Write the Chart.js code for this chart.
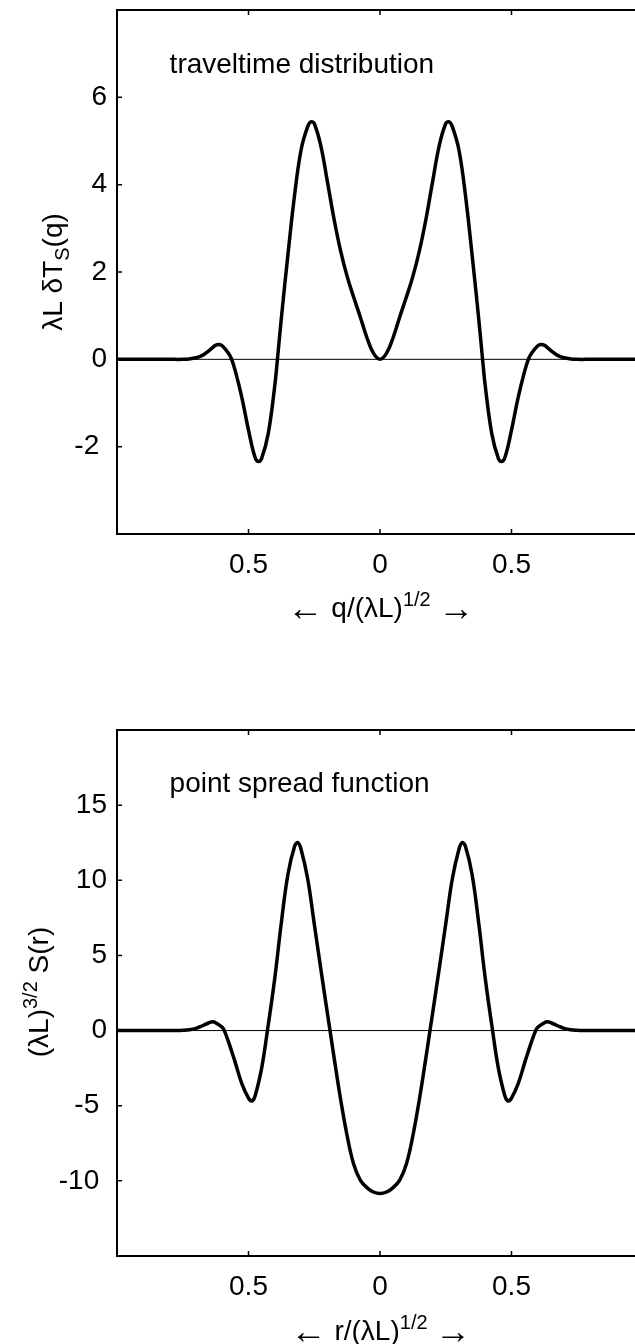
<!DOCTYPE html>
<html><head><meta charset="utf-8">
<script src="https://cdn.jsdelivr.net/npm/chart.js@4.4.1/dist/chart.umd.min.js"></script>
<style>
html,body{margin:0;padding:0;background:#fff;overflow:hidden;width:635px;height:1344px;}
.panel{position:absolute;left:0;width:660px;height:672px;}
#p1{top:0}
#p2{top:672px}
</style></head><body>
<div class="panel" id="p1"><canvas id="c1" width="660" height="672"></canvas></div>
<div class="panel" id="p2"><canvas id="c2" width="660" height="672"></canvas></div>
<script>
// ---------- data ----------
const qValues = [-1.0, -0.9, -0.8, -0.75, -0.725, -0.7, -0.675, -0.65, -0.625, -0.6125, -0.6, -0.575, -0.564, -0.55, -0.525, -0.5, -0.475, -0.4625, -0.45, -0.425, -0.4, -0.39, -0.375, -0.35, -0.325, -0.3, -0.275, -0.2625, -0.25, -0.225, -0.2, -0.175, -0.15, -0.125, -0.1, -0.075, -0.05, -0.025,
  0,
  0.025, 0.05, 0.075, 0.1, 0.125, 0.15, 0.175, 0.2, 0.225, 0.25, 0.2625, 0.275, 0.3, 0.325, 0.35, 0.375, 0.39, 0.4, 0.425, 0.45, 0.4625, 0.475, 0.5, 0.525, 0.55, 0.564, 0.575, 0.6, 0.6125, 0.625, 0.65, 0.675, 0.7, 0.725, 0.75, 0.8, 0.9, 1.0];
const travelTime = [0, 0, 0, 0, 0.01, 0.035, 0.09, 0.2, 0.32, 0.34, 0.31, 0.13, 0, -0.27, -0.88, -1.62, -2.25, -2.34, -2.27, -1.7, -0.6, 0, 0.95, 2.4, 3.75, 4.8, 5.33, 5.44, 5.4, 4.89, 4.07, 3.22, 2.49, 1.9, 1.42, 0.97, 0.5, 0.14,
  0,
  0.14, 0.5, 0.97, 1.42, 1.9, 2.49, 3.22, 4.07, 4.89, 5.4, 5.44, 5.33, 4.8, 3.75, 2.4, 0.95, 0, -0.6, -1.7, -2.27, -2.34, -2.25, -1.62, -0.88, -0.27, 0, 0.13, 0.31, 0.34, 0.32, 0.2, 0.09, 0.035, 0.01, 0, 0, 0, 0];

const rValues = [-1.0, -0.9, -0.8, -0.775, -0.75, -0.725, -0.7, -0.675, -0.65, -0.635, -0.625, -0.6, -0.592, -0.575, -0.55, -0.525, -0.5, -0.4875, -0.475, -0.45, -0.428, -0.4, -0.375, -0.35, -0.325, -0.3125, -0.3, -0.275, -0.25, -0.225, -0.2, -0.19, -0.175, -0.15, -0.125, -0.1, -0.075, -0.05, -0.025,
  0,
  0.025, 0.05, 0.075, 0.1, 0.125, 0.15, 0.175, 0.19, 0.2, 0.225, 0.25, 0.275, 0.3, 0.3125, 0.325, 0.35, 0.375, 0.4, 0.428, 0.45, 0.475, 0.4875, 0.5, 0.525, 0.55, 0.575, 0.592, 0.6, 0.625, 0.635, 0.65, 0.675, 0.7, 0.725, 0.75, 0.775, 0.8, 0.9, 1.0];
const pointSpread = [0, 0, 0, 0, 0.02, 0.06, 0.15, 0.32, 0.52, 0.58, 0.52, 0.22, 0, -0.8, -2.15, -3.55, -4.5, -4.69, -4.35, -2.5, 0, 3.5, 7.2, 10.4, 12.25, 12.5, 12.05, 10.1, 7.1, 4.1, 1.15, 0, -1.75, -4.55, -7.0, -8.9, -9.95, -10.45, -10.74,
  -10.84,
  -10.74, -10.45, -9.95, -8.9, -7.0, -4.55, -1.75, 0, 1.15, 4.1, 7.1, 10.1, 12.05, 12.5, 12.25, 10.4, 7.2, 3.5, 0, -2.5, -4.35, -4.69, -4.5, -3.55, -2.15, -0.8, 0, 0.22, 0.52, 0.58, 0.52, 0.32, 0.15, 0.06, 0.02, 0, 0, 0, 0];

const xRange = [-1, 1];
const xTickValues = [-0.5, 0, 0.5];
const travelRange = [-4, 8];
const travelTicks = [-2, 0, 2, 4, 6];
const psfRange = [-15, 20];
const psfTicks = [-10, -5, 0, 5, 10, 15];
const zeroLineX = [-1, 1];
const zeroLineY = [0, 0];

// ---------- drawing helpers ----------
const FONT = '"Liberation Sans", Arial, Helvetica, sans-serif';
const BIG = 28, SMALL = 20, ARROW = 36;

function drawRich(ctx, parts, x, y, align) {
  let total = 0;
  parts.forEach(p => { ctx.font = p.size + 'px ' + (p.font || FONT); p.w = ctx.measureText(p.text).width; total += p.w; });
  let cx = align === 'center' ? x - total / 2 : x;
  parts.forEach(p => {
    ctx.font = p.size + 'px ' + (p.font || FONT);
    ctx.fillText(p.text, cx, y + (p.dy || 0));
    cx += p.w;
  });
}

const framePlugin = {
  id: 'frame',
  afterDraw(chart, args, o) {
    const { ctx, chartArea: a, scales: { x, y } } = chart;
    ctx.save();
    ctx.strokeStyle = '#000';
    ctx.fillStyle = '#000';
    ctx.lineWidth = 2;
    ctx.strokeRect(a.left, a.top, a.right - a.left, a.bottom - a.top);
    ctx.lineWidth = 1.5;
    ctx.beginPath();
    x.ticks.forEach(t => {
      const px = x.getPixelForValue(t.value);
      ctx.moveTo(px, a.top); ctx.lineTo(px, a.top + 5);
      ctx.moveTo(px, a.bottom); ctx.lineTo(px, a.bottom - 5);
    });
    y.ticks.forEach(t => {
      const py = y.getPixelForValue(t.value);
      ctx.moveTo(a.left, py); ctx.lineTo(a.left + 5, py);
      ctx.moveTo(a.right, py); ctx.lineTo(a.right - 5, py);
    });
    ctx.stroke();

    ctx.textBaseline = 'alphabetic';
    ctx.textAlign = 'left';
    ctx.font = BIG + 'px ' + FONT;
    ctx.fillText(o.note, x.getPixelForValue(o.noteAt[0]), y.getPixelForValue(o.noteAt[1]));
    drawRich(ctx, o.xTitle, o.xTitlePos[0], o.xTitlePos[1], 'center');
    ctx.translate(o.yTitlePos[0], o.yTitlePos[1]);
    ctx.rotate(-Math.PI / 2);
    drawRich(ctx, o.yTitle, 0, 0, 'center');
    ctx.restore();
  }
};

function toPoints(xs, ys) { return xs.map((v, i) => ({ x: v, y: ys[i] })); }

function makeChart(id, xs, ys, yRange, yTicks, padding, opts) {
  return new Chart(document.getElementById(id), {
    type: 'line',
    data: {
      datasets: [
        { data: toPoints(xs, ys), borderColor: '#000', borderWidth: 3.5, pointRadius: 0, tension: 0.4, fill: false },
        { data: toPoints(zeroLineX, zeroLineY), borderColor: '#000', borderWidth: 1, pointRadius: 0, tension: 0, fill: false }
      ]
    },
    options: {
      responsive: false,
      animation: false,
      devicePixelRatio: 1,
      layout: { padding: padding },
      plugins: { legend: { display: false }, tooltip: { enabled: false }, frame: opts },
      scales: {
        x: {
          type: 'linear', min: xRange[0], max: xRange[1],
          grid: { display: false, drawTicks: false }, border: { display: false },
          afterBuildTicks: s => { s.ticks = xTickValues.map(v => ({ value: v })); },
          afterFit: s => { s.height = 60; s.paddingLeft = 0; s.paddingRight = 0; s.paddingTop = 0; s.paddingBottom = 0; },
          ticks: { color: '#000', padding: 14, font: { family: FONT, size: BIG }, maxRotation: 0,
            callback: v => String(Math.abs(v)) }
        },
        y: {
          type: 'linear', min: yRange[0], max: yRange[1],
          grid: { display: false, drawTicks: false }, border: { display: false },
          afterBuildTicks: s => { s.ticks = yTicks.map(v => ({ value: v })); },
          afterFit: s => { s.width = 117; s.paddingTop = 0; s.paddingBottom = 0; s.paddingLeft = 0; s.paddingRight = 0; },
          ticks: { color: '#000', padding: 10, font: { family: FONT, size: BIG },
            callback: v => v < 0 ? String(v) + ' ' : String(v) }
        }
      }
    },
    plugins: [framePlugin]
  });
}

makeChart('c1', qValues, travelTime, travelRange, travelTicks,
  { left: 0, top: 10, right: 17, bottom: 78 },
  {
    note: 'traveltime distribution', noteAt: [-0.8, 6.55],
    xTitle: [{ text: '\u2190', size: ARROW, dy: 3 }, { text: ' q/(\u03bbL)', size: BIG }, { text: '1/2', size: SMALL, dy: -11 }, { text: ' ', size: BIG }, { text: '\u2192', size: ARROW, dy: 3 }],
    xTitlePos: [381, 617],
    yTitle: [{ text: '\u03bbL \u03b4T', size: BIG }, { text: 'S', size: SMALL, dy: 7 }, { text: '(q)', size: BIG }],
    yTitlePos: [62, 272]
  });

makeChart('c2', rValues, pointSpread, psfRange, psfTicks,
  { left: 0, top: 58, right: 17, bottom: 28 },
  {
    note: 'point spread function', noteAt: [-0.8, 15.87],
    xTitle: [{ text: '\u2190', size: ARROW, dy: 3 }, { text: ' r/(\u03bbL)', size: BIG }, { text: '1/2', size: SMALL, dy: -11 }, { text: ' ', size: BIG }, { text: '\u2192', size: ARROW, dy: 3 }],
    xTitlePos: [381, 668],
    yTitle: [{ text: '(\u03bbL)', size: BIG }, { text: '3/2', size: SMALL, dy: -11 }, { text: ' S(r)', size: BIG }],
    yTitlePos: [48, 320]
  });
</script>
</body></html>
